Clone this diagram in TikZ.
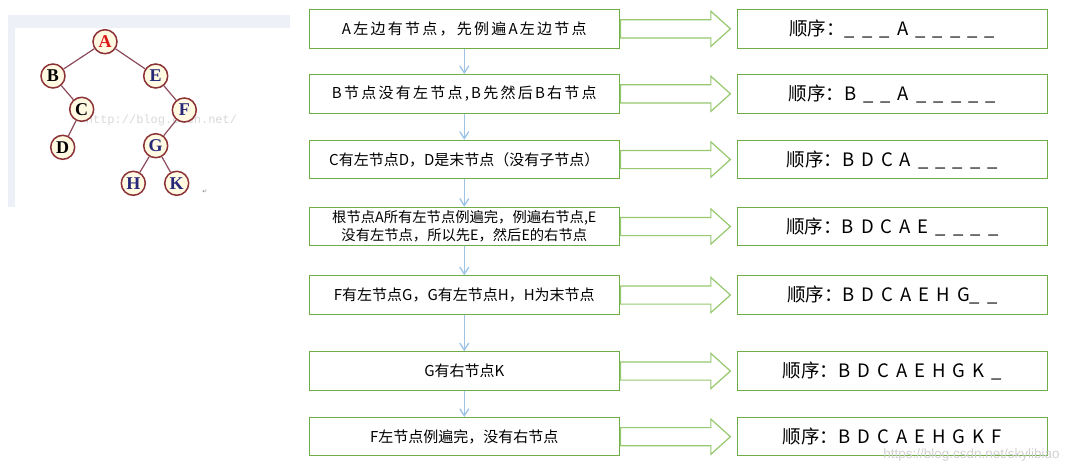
\documentclass[tikz,border=0pt]{standalone}
\usepackage{fontspec}
\setmainfont{Noto Sans CJK SC}
\newfontfamily\widecjk[LetterSpace=15]{Noto Sans CJK SC}
\newfontfamily\seqfont[WordSpace=1.7]{Noto Sans CJK SC}
\newfontfamily\treefont{Liberation Serif}
\newfontfamily\markfont{Liberation Mono}
\newfontfamily\wmfont{Liberation Sans}
\newfontfamily\symfont{DejaVu Sans}
\usetikzlibrary{arrows.meta, positioning, shapes.arrows}

\definecolor{boxgreen}{RGB}{112,173,71}
\definecolor{arrgreen}{RGB}{150,200,110}
\definecolor{downblue}{RGB}{157,195,230}
\definecolor{ringred}{RGB}{140,50,55}
\definecolor{edgered}{RGB}{140,75,90}
\definecolor{nodefill}{RGB}{255,250,225}
\definecolor{letterblue}{RGB}{40,40,120}
\definecolor{letterred}{RGB}{220,25,25}
\definecolor{panelgray}{RGB}{237,241,247}

\begin{document}
\begin{tikzpicture}[x=1pt, y=-1pt,
        stepbox/.style={draw=boxgreen, line width=1pt, minimum width=310pt, minimum height=38.5pt, align=center, inner sep=2pt, font=\fontsize{15}{18}\selectfont},
        seqbox/.style={draw=boxgreen, line width=1pt, minimum width=310.7pt, minimum height=38.5pt, font=\seqfont\fontsize{18.5}{20}\selectfont},
        bigarr/.style={single arrow, draw=arrgreen, fill=white, line width=1.2pt, inner xsep=0pt, inner ysep=8.5pt, minimum height=110pt, single arrow head extend=8.5pt, single arrow tip angle=84, anchor=tail},
        down/.style={-{Straight Barb[length=7pt, width=9pt]}, draw=downblue, line width=1.3pt},
        tnode/.style={circle, draw=ringred, line width=1.5pt, fill=nodefill, minimum size=24pt, inner sep=0pt, font=\treefont\bfseries\fontsize{18}{18}\selectfont},
        tedge/.style={draw=edgered, line width=1.2pt}]
    \useasboundingbox (0,0) rectangle (1085,474);

    % tree picture on the left
    \fill[panelgray] (8,15) rectangle (290,207);
    \fill[white] (15,28) rectangle (290,207);
    \node[font=\markfont\fontsize{12}{12}\selectfont, text=black!15] (wm1) at (161.5,120.7) {http://blog.csdn.net/};
    \node[tnode, text=letterred] (A) at (105,41.7) {A};
    \node[tnode] (B) at (53,76) {B};
    \node[tnode, text=letterblue] (E) at (155.7,76) {E};
    \node[tnode] (C) at (81.7,109.3) {C};
    \node[tnode, text=letterblue] (F) at (184.3,110) {F};
    \node[tnode] (D) at (62.7,147.3) {D};
    \node[tnode, text=letterblue] (G) at (155.7,145.7) {G};
    \node[tnode, text=letterblue] (H) at (133.3,183.3) {H};
    \node[tnode, text=letterblue] (K) at (176.7,183.3) {K};
    \node[font=\symfont\fontsize{6}{6}\selectfont, text=black!50] (ret) at (205,192) {↵};
    \draw[tedge] (A) -- (B);
    \draw[tedge] (A) -- (E);
    \draw[tedge] (B) -- (C);
    \draw[tedge] (C) -- (D);
    \draw[tedge] (E) -- (F);
    \draw[tedge] (F) -- (G);
    \draw[tedge] (G) -- (H);
    \draw[tedge] (G) -- (K);

    % steps
    \node[stepbox, font=\widecjk\fontsize{15}{18}\selectfont] (s1) at (464.3,28.8) {A左边有节点，先例遍A左边节点};
    \node[stepbox, font=\widecjk\fontsize{15}{18}\selectfont] (s2) at (464.3,93.8) {B节点没有左节点,B先然后B右节点};
    \node[stepbox] (s3) at (464.3,159.5) {C有左节点D，D是末节点（没有子节点）};
    \node[stepbox, font=\fontsize{14.3}{18}\selectfont] (s4) at (464.3,226.5) {根节点A所有左节点例遍完，例遍右节点,E\\没有左节点，所以先E，然后E的右节点};
    \node[stepbox] (s5) at (464.3,295) {F有左节点G，G有左节点H，H为末节点};
    \node[stepbox] (s6) at (464.3,371) {G有右节点K};
    \node[stepbox] (s7) at (464.3,436.7) {F左节点例遍完，没有右节点};
    \draw[down] (s1) -- (s2);
    \draw[down] (s2) -- (s3);
    \draw[down] (s3) -- (s4);
    \draw[down] (s4) -- (s5);
    \draw[down] (s5) -- (s6);
    \draw[down] (s6) -- (s7);

    % order so far
    \node[seqbox, right=116.7pt of s1] (r1) {顺序：\_ \_ \_ A \_ \_ \_ \_ \_};
    \node[seqbox, right=116.7pt of s2] (r2) {顺序：B \_ \_ A \_ \_ \_ \_ \_};
    \node[seqbox, right=116.7pt of s3] (r3) {顺序：B D C A \_ \_ \_ \_ \_};
    \node[seqbox, right=116.7pt of s4] (r4) {顺序：B D C A E \_ \_ \_ \_};
    \node[seqbox, right=116.7pt of s5] (r5) {顺序：B D C A E H G\_ \_};
    \node[seqbox, right=116.7pt of s6] (r6) {顺序：B D C A E H G K \_};
    \node[seqbox, right=116.7pt of s7] (r7) {顺序：B D C A E H G K F};
    \node[bigarr] (a1) at (s1.east) {};
    \node[bigarr] (a2) at (s2.east) {};
    \node[bigarr] (a3) at (s3.east) {};
    \node[bigarr] (a4) at (s4.east) {};
    \node[bigarr] (a5) at (s5.east) {};
    \node[bigarr] (a6) at (s6.east) {};
    \node[bigarr] (a7) at (s7.east) {};

    \node[font=\wmfont\fontsize{13.5}{14}\selectfont, text=black!18] (wm2) at (971.5,455) {https://blog.csdn.net/skylibiao};
\end{tikzpicture}
\end{document}
